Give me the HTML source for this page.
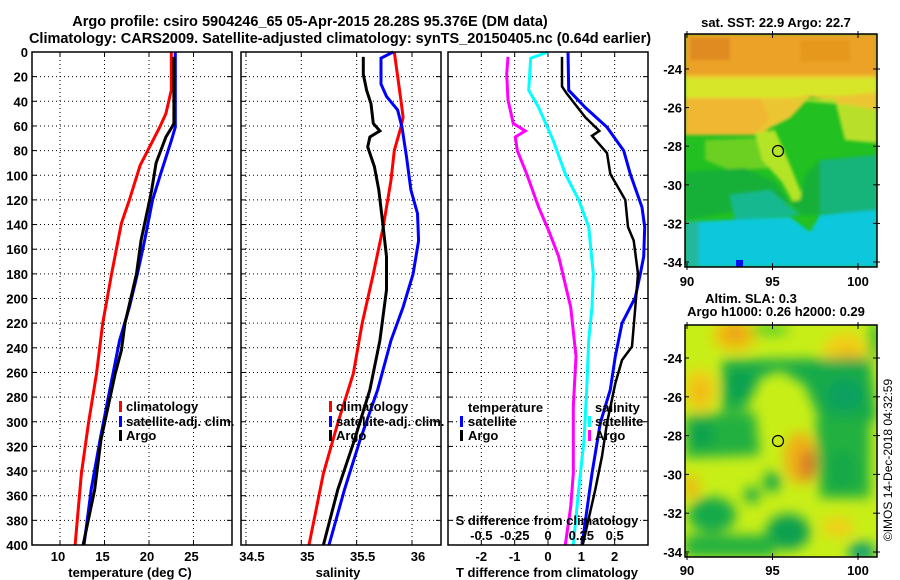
<!DOCTYPE html>
<html><head><meta charset="utf-8"><style>
html,body{margin:0;padding:0;background:#fff}
svg{display:block;font-family:"Liberation Sans",sans-serif;font-weight:bold}
.t{font-size:13px;fill:#000}
.ti{font-size:14.5px;fill:#000}
</style></head><body>
<svg id="chart" width="900" height="580" viewBox="0 0 900 580">
<defs>
<filter id="blr" x="-30%" y="-30%" width="160%" height="160%"><feGaussianBlur stdDeviation="6"/></filter>
<filter id="blr2" x="-10%" y="-10%" width="120%" height="120%"><feGaussianBlur stdDeviation="1.5"/></filter>
<clipPath id="clipTop"><rect x="685" y="34" width="192" height="233"/></clipPath>
<clipPath id="clipBot"><rect x="685" y="325" width="192" height="232"/></clipPath>
</defs>
<text class="ti" x="310" y="26" text-anchor="middle">Argo profile: csiro 5904246_65 05-Apr-2015 28.28S 95.376E (DM data)</text>
<text class="ti" x="340" y="43" text-anchor="middle">Climatology: CARS2009. Satellite-adjusted climatology: synTS_20150405.nc (0.64d earlier)</text>
<g id="panels"></g>

<!-- top map -->
<g>
<text class="t" x="776" y="27" text-anchor="middle">sat. SST: 22.9 Argo: 22.7</text>
<g clip-path="url(#clipTop)">
<rect x="685" y="34" width="192" height="233" fill="#22c020"/>
<g filter="url(#blr2)">
<rect x="685" y="34" width="192" height="46" fill="#eca228"/>
<rect x="690" y="38" width="40" height="22" fill="#e08a20"/>
<rect x="800" y="40" width="50" height="22" fill="#e6981f"/>
<polygon points="685,75 877,75 877,143 845,140 835,100 810,97 790,118 770,128 760,135 685,135" fill="#ecc630"/>
<polygon points="685,78 877,78 877,92 840,96 810,95 790,98 685,98" fill="#d8e62a"/>
<polygon points="685,98 760,98 770,118 755,135 685,135" fill="#f0b830"/>
<polygon points="790,100 835,98 845,140 877,143 877,110 850,105" fill="#b8e02a"/>
<polygon points="705,140 760,138 772,168 730,170 705,160" fill="#6cd020"/>
<polygon points="755,133 775,130 790,165 808,210 800,215 782,182 762,160" fill="#b4e428"/>
<polygon points="685,172 745,168 775,182 800,215 877,215 877,160 845,165 820,160 805,175 800,200 685,220" fill="#18b038"/>
<polygon points="820,160 877,155 877,212 820,212" fill="#14b47a"/>
<polygon points="730,195 770,190 800,215 735,220" fill="#18b890"/>
<polygon points="685,222 790,217 810,232 820,215 877,210 877,267 685,267" fill="#08c8dc"/>
<rect x="685" y="222" width="14" height="45" fill="#20b8a0"/>
</g>
<rect x="736" y="260" width="7" height="7" fill="#0010f0"/>
</g>
<rect x="685" y="34" width="192" height="233" fill="none" stroke="#000" stroke-width="1.5"/>
<circle cx="778" cy="151" r="5.5" fill="none" stroke="#000" stroke-width="1.2"/>
</g>

<!-- bottom map -->
<g>
<text class="t" x="751" y="303" text-anchor="middle">Altim. SLA: 0.3</text>
<text class="t" x="776" y="316" text-anchor="middle">Argo h1000: 0.26 h2000: 0.29</text>
<g clip-path="url(#clipBot)">
<rect x="685" y="325" width="192" height="232" fill="#c8ee18"/>
<g filter="url(#blr)">
<ellipse cx="735" cy="335" rx="22" ry="16" fill="#f0c010"/>
<ellipse cx="735" cy="333" rx="10" ry="8" fill="#eaa018"/>
<ellipse cx="845" cy="352" rx="22" ry="20" fill="#f0d018"/>
<ellipse cx="848" cy="358" rx="10" ry="10" fill="#f0b818"/>
<ellipse cx="700" cy="390" rx="16" ry="22" fill="#f0d018"/>
<ellipse cx="700" cy="392" rx="8" ry="12" fill="#f0b818"/>
<path d="M722,360 L870,358 L877,420 L850,425 L820,420 L805,385 L780,370 L760,378 L745,410 L722,412 Z" fill="#18aa48"/>
<ellipse cx="742" cy="385" rx="14" ry="12" fill="#10a050"/>
<ellipse cx="845" cy="395" rx="18" ry="16" fill="#10a060"/>
<path d="M685,415 L755,412 L760,455 L685,458 Z" fill="#20b040"/>
<ellipse cx="702" cy="435" rx="12" ry="12" fill="#10a050"/>
<path d="M815,420 L870,420 L870,498 L820,498 Z" fill="#20b040"/>
<ellipse cx="842" cy="470" rx="14" ry="20" fill="#18a848"/>
<ellipse cx="800" cy="458" rx="16" ry="26" fill="#f0b018"/>
<ellipse cx="808" cy="465" rx="8" ry="16" fill="#d87828"/>
<ellipse cx="691" cy="487" rx="8" ry="12" fill="#f0b810"/>
<ellipse cx="752" cy="495" rx="8" ry="8" fill="#18a848"/>
<ellipse cx="772" cy="482" rx="9" ry="10" fill="#18a848"/>
<ellipse cx="712" cy="515" rx="24" ry="18" fill="#18aa48"/>
<ellipse cx="788" cy="532" rx="22" ry="18" fill="#10a050"/>
<rect x="685" y="535" width="90" height="22" fill="#22b040"/>
<ellipse cx="838" cy="527" rx="16" ry="10" fill="#f0d018"/>
<ellipse cx="862" cy="552" rx="14" ry="10" fill="#10a070"/>
<ellipse cx="770" cy="330" rx="20" ry="6" fill="#60d028"/>
<ellipse cx="875" cy="340" rx="6" ry="20" fill="#30c030"/>
</g>
</g>
<rect x="685" y="325" width="192" height="232" fill="none" stroke="#000" stroke-width="1.5"/>
<circle cx="778" cy="441" r="5.5" fill="none" stroke="#000" stroke-width="1.2"/>
</g>
<text x="892" y="460" font-size="12" font-weight="normal" text-anchor="middle" transform="rotate(-90 892 460)">©IMOS 14-Dec-2018 04:32:59</text>
<g id="maplabels"></g>
</svg>
<script>
const tClimDepth = [0,31,50,61,92,120,139,180,220,261,301,342,400];
const tClimVal   = [22.5,22.5,21.9,21.2,19.0,17.8,16.9,15.8,14.8,14.1,13.2,12.4,11.7];
const tSatDepth  = [0,61,72,99,120,153,180,207,234,274,315,355,400];
const tSatVal    = [22.95,22.95,22.5,21.3,20.4,19.5,18.7,17.8,16.7,15.6,14.5,13.5,12.7];
const tArgoDepth = [4,58,63,69,90,112,126,153,180,220,242,261,315,355,400];
const tArgoVal   = [22.8,22.8,22.4,21.9,20.8,20.3,19.9,19.1,18.6,17.3,16.9,16.2,14.6,13.9,12.6];

const sClimDepth = [0,39,53,61,80,104,126,142,180,220,261,301,342,400];
const sClimVal   = [35.84,35.90,35.92,35.90,35.84,35.81,35.77,35.74,35.65,35.55,35.47,35.33,35.20,35.07];
const sSatDepth  = [0,5,26,36,47,61,85,112,131,153,180,207,234,274,315,355,400];
const sSatVal    = [35.83,35.72,35.72,35.77,35.87,35.91,35.95,35.99,36.05,36.06,36.01,35.92,35.81,35.69,35.53,35.39,35.25];
const sArgoDepth = [4,18,31,42,58,64,69,77,93,112,142,166,193,234,274,315,355,400];
const sArgoVal   = [35.56,35.56,35.59,35.63,35.65,35.71,35.62,35.60,35.66,35.70,35.74,35.77,35.77,35.71,35.62,35.48,35.33,35.20];

const dTSatDepth  = [0,31,45,61,80,99,126,142,166,180,199,220,247,274,301,342,400];
const dTSatVal    = [0.6,0.62,1.12,1.77,2.27,2.47,2.82,2.9,2.87,2.77,2.62,2.22,2.02,1.87,1.57,1.32,1.02];
const dTArgoDepth = [4,28,34,53,64,68,82,99,120,142,153,180,207,239,250,269,301,328,355,400];
const dTArgoVal   = [0.42,0.42,0.57,1.12,1.54,1.32,1.77,1.87,2.32,2.4,2.57,2.7,2.62,2.52,2.22,2.02,1.77,1.62,1.42,1.04];
const dSSatDepth  = [0,5,31,45,72,99,120,142,180,207,234,274,315,355,400];
const dSSatVal    = [0,-0.13,-0.145,-0.07,0.04,0.13,0.23,0.305,0.34,0.33,0.305,0.29,0.27,0.23,0.19];
const dSArgoDepth = [4,18,39,58,64,69,80,99,126,145,166,207,247,288,342,369,400];
const dSArgoVal   = [-0.30,-0.31,-0.30,-0.26,-0.17,-0.245,-0.23,-0.16,-0.07,0.005,0.08,0.17,0.21,0.19,0.19,0.17,0.13];

const depthTicks = [0,20,40,60,80,100,120,140,160,180,200,220,240,260,280,300,320,340,360,380,400];
const tTicks = [10,15,20,25];
const sTicks = [34.5,35,35.5,36];
const dTTicks = [-2,-1,0,1,2];
const dSTickLabels = ["-0.5","-0.25","0","0.25","0.5"];
const dSTicks = [-0.5,-0.25,0,0.25,0.5];
const latTicks = [-24,-26,-28,-30,-32,-34];
const lonTicks = [90,95,100];

const NS = "http://www.w3.org/2000/svg";
const Y0 = 52, Y1 = 545;
const yScale = d => Y0 + d/400*(Y1-Y0);
function lin(d0,d1,r0,r1){return v => r0 + (v-d0)/(d1-d0)*(r1-r0);}
function mk(tag, attrs, parent){const e=document.createElementNS(NS,tag);for(const k in attrs)e.setAttribute(k,attrs[k]);parent.appendChild(e);return e;}
const root = document.getElementById('panels');

function panel(name, x0, x1, xs, vTicks, leftLabels){
  const g = mk('g',{},root);
  
  
  depthTicks.forEach(d=>{ if(d>0&&d<400) mk('line',{x1:x0,x2:x1,y1:yScale(d),y2:yScale(d),stroke:'#000','stroke-width':1,'stroke-dasharray':'1,3'},g);});
  vTicks.forEach(v=>{const x=xs(v); if(x>x0+2&&x<x1-2) mk('line',{x1:x,x2:x,y1:Y0,y2:Y1,stroke:'#000','stroke-width':1,'stroke-dasharray':'1,3'},g);});
  depthTicks.forEach(d=>{mk('line',{x1:x0,x2:x0+5,y1:yScale(d),y2:yScale(d),stroke:'#000'},g);mk('line',{x1:x1-5,x2:x1,y1:yScale(d),y2:yScale(d),stroke:'#000'},g);});
  vTicks.forEach(v=>{const x=xs(v);mk('line',{x1:x,x2:x,y1:Y1-5,y2:Y1,stroke:'#000'},g);mk('line',{x1:x,x2:x,y1:Y0,y2:Y0+5,stroke:'#000'},g);});
  if(leftLabels){
    depthTicks.forEach(d=>{const t=mk('text',{x:x0-4,y:yScale(d)+5,'text-anchor':'end',class:'t'},g);t.textContent=d;
      
      });
  }
  return g;
}
function series(g, name, depths, vals, xs, color, w){
  const pts = depths.map((d,i)=>xs(vals[i]).toFixed(1)+','+yScale(d).toFixed(1)).join(' ');
  const p = mk('polyline',{points:pts,fill:'none',stroke:color,'stroke-width':w,'stroke-linejoin':'miter'},g);
  
  
}
function frame(g,x0,x1){mk('rect',{x:x0,y:Y0,width:x1-x0,height:Y1-Y0,fill:'none',stroke:'#000','stroke-width':1.5},g);}
function txt(g,x,y,s,name,anchor,fill){const t=mk('text',{x:x,y:y,class:'t','text-anchor':anchor||'start'},g);t.textContent=s;if(fill)t.setAttribute('fill',fill);
  
  
  return t;}
function legendMark(g,x,y,color,name){const r=mk('rect',{x:x,y:y-10,width:3,height:11,fill:color},g);
  
  }

const xT = lin(10,25,60,193.5);
const g1 = panel('temperature-panel',32,232,xT,tTicks,true);
series(g1,'temperature-climatology-line',tClimDepth,tClimVal,xT,'#f00',3);
series(g1,'temperature-satellite-line',tSatDepth,tSatVal,xT,'#00f',3);
series(g1,'temperature-argo-line',tArgoDepth,tArgoVal,xT,'#000',3);
frame(g1,32,232);
tTicks.forEach(v=>txt(g1,xT(v)-2,561,String(v),'temperature-tick-label','middle'));
txt(g1,130,577,'temperature (deg C)','temperature-axis-title','middle');
legendMark(g1,119,411,'#f00','legend-climatology-marker');txt(g1,126,411,'climatology','legend-climatology');
legendMark(g1,119,426,'#00f','legend-satellite-marker');txt(g1,126,426,'satellite-adj. clim.','legend-satellite-adj');
legendMark(g1,119,440,'#000','legend-argo-marker');txt(g1,126,440,'Argo','legend-argo');

const xS = lin(35,36,301.3,412);
const g2 = panel('salinity-panel',241,441,xS,sTicks,false);
series(g2,'salinity-climatology-line',sClimDepth,sClimVal,xS,'#f00',3);
series(g2,'salinity-satellite-line',sSatDepth,sSatVal,xS,'#00f',3);
series(g2,'salinity-argo-line',sArgoDepth,sArgoVal,xS,'#000',3);
frame(g2,241,441);
sTicks.forEach(v=>txt(g2,xS(v)+6,561,String(v),'salinity-tick-label','middle'));
txt(g2,338,577,'salinity','salinity-axis-title','middle');
legendMark(g2,329,411,'#f00','legend-climatology-marker');txt(g2,336,411,'climatology','legend-climatology');
legendMark(g2,329,426,'#00f','legend-satellite-marker');txt(g2,336,426,'satellite-adj. clim.','legend-satellite-adj');
legendMark(g2,329,440,'#000','legend-argo-marker');txt(g2,336,440,'Argo','legend-argo');

const xD = lin(-3,3,448,648);
const xDS = lin(-0.75,0.75,448,648);
const g3 = panel('difference-panel',448,648,xD,dTTicks,false);
series(g3,'salinity-diff-argo-line',dSArgoDepth,dSArgoVal,xDS,'#f0f',3);
series(g3,'salinity-diff-satellite-line',dSSatDepth,dSSatVal,xDS,'#0ff',3);
series(g3,'temperature-diff-satellite-line',dTSatDepth,dTSatVal,xD,'#00f',3);
series(g3,'temperature-diff-argo-line',dTArgoDepth,dTArgoVal,xD,'#000',2.5);
frame(g3,448,648);
dTTicks.forEach(v=>txt(g3,xD(v),561,String(v),'t-diff-tick-label','middle'));
txt(g3,547,577,'T difference from climatology','t-diff-axis-title','middle');
txt(g3,547,525,'S difference from climatology','s-diff-axis-title','middle');
dSTicks.forEach((v,i)=>txt(g3,xDS(v),540,dSTickLabels[i],'s-diff-tick-label','middle'));
txt(g3,468,412,'temperature','legend-temperature-heading');
legendMark(g3,460,426,'#00f','legend-t-satellite-marker');txt(g3,468,426,'satellite','legend-t-satellite');
legendMark(g3,460,440,'#000','legend-t-argo-marker');txt(g3,468,440,'Argo','legend-t-argo');
txt(g3,595,412,'salinity','legend-salinity-heading');
legendMark(g3,588,426,'#0ff','legend-s-satellite-marker');txt(g3,595,426,'satellite','legend-s-satellite');
legendMark(g3,588,440,'#f0f','legend-s-argo-marker');txt(g3,595,440,'Argo','legend-s-argo');

const ml = document.getElementById('maplabels');
const lonX = lin(90,100,687,858);
const mapDefs = [{lat24:69, step:19.3, name:'sst', by:267, ty:34, lonY:286},{lat24:358, step:19.4, name:'sla', by:557, ty:325, lonY:575}];
mapDefs.forEach(m=>{
  const latY = v => m.lat24 + (-24 - v)*m.step;
  latTicks.forEach(v=>{
    txt(ml,682,latY(v)+5,String(v),m.name+'-lat-label','end');
    mk('line',{x1:685,x2:689,y1:latY(v),y2:latY(v),stroke:'#000'},ml);
    mk('line',{x1:873,x2:880,y1:latY(v),y2:latY(v),stroke:'#000'},ml);
  });
  lonTicks.forEach(v=>{
    txt(ml,lonX(v),m.lonY,String(v),m.name+'-lon-label','middle');
    mk('line',{x1:lonX(v),x2:lonX(v),y1:m.by-4,y2:m.by+3,stroke:'#000'},ml);
    mk('line',{x1:lonX(v),x2:lonX(v),y1:m.ty-3,y2:m.ty+4,stroke:'#000'},ml);
  });
});
</script>
</body></html>
